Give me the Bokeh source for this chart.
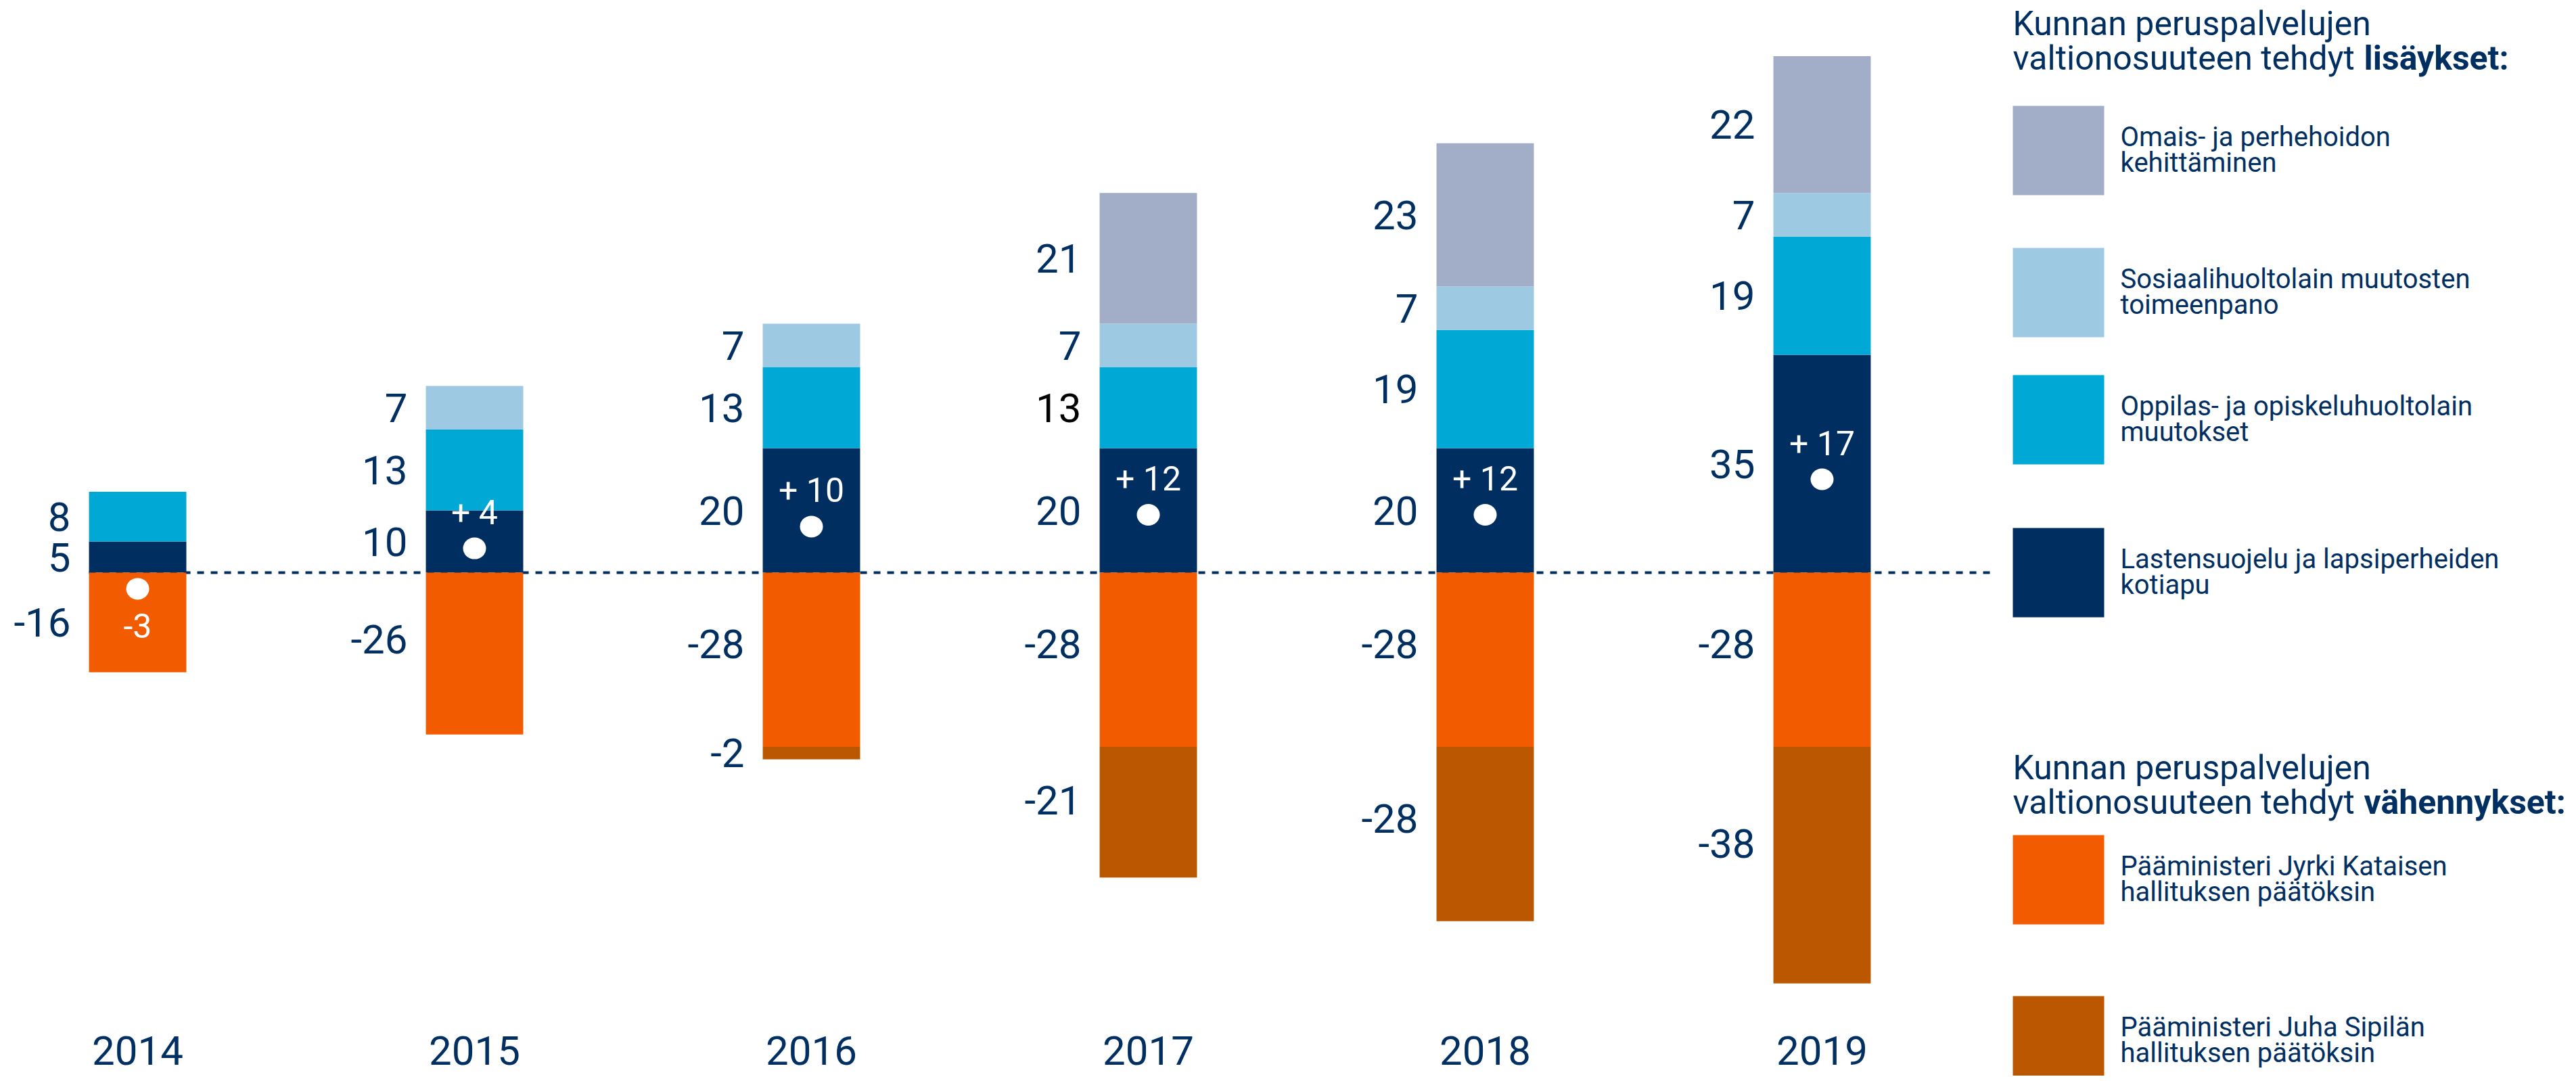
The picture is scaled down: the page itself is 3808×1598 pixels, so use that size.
from bokeh.plotting import figure
from bokeh.models import Range1d, ColumnDataSource
from bokeh.core.properties import value
from bokeh.embed import file_html
from bokeh.resources import INLINE

# ---------------- data ----------------
years = ["2014", "2015", "2016", "2017", "2018", "2019"]
lastensuojelu = [5, 10, 20, 20, 20, 35]      # Lastensuojelu ja lapsiperheiden kotiapu
oppilas = [8, 13, 13, 13, 19, 19]            # Oppilas- ja opiskeluhuoltolain muutokset
sosiaali = [0, 7, 7, 7, 7, 7]                # Sosiaalihuoltolain muutosten toimeenpano
omais = [0, 0, 0, 21, 23, 22]                # Omais- ja perhehoidon kehittäminen
kataisen = [-16, -26, -28, -28, -28, -28]    # Kataisen hallituksen päätöksin
sipilan = [0, 0, -2, -21, -28, -38]          # Sipilän hallituksen päätöksin
net_labels = ["-3", "+ 4", "+ 10", "+ 12", "+ 12", "+ 17"]
net_marker = [-2.6, 3.9, 7.4, 9.3, 9.3, 15.0]

title_lines = ["Kunnan peruspalvelujen", "valtionosuuteen tehdyt "]
title_bold = ["lisäykset:", "vähennykset:"]
legend_items = [
    ["Omais- ja perhehoidon", "kehittäminen"],
    ["Sosiaalihuoltolain muutosten", "toimeenpano"],
    ["Oppilas- ja opiskeluhuoltolain", "muutokset"],
    ["Lastensuojelu ja lapsiperheiden", "kotiapu"],
    ["Pääministeri Jyrki Kataisen", "hallituksen päätöksin"],
    ["Pääministeri Juha Sipilän", "hallituksen päätöksin"],
]

# ---------------- style ----------------
NAVY = "#002e60"
CYAN = "#00a8d6"
LIGHT = "#9ec9e2"
GRAY = "#a2aec8"
ORANGE = "#f35b00"
BROWN = "#ba5700"
TEXT = "#012f61"
FONT = value("Roboto")
BW = 0.289
W, H = 3800, 1590

pos_series = [("lastensuojelu", lastensuojelu, NAVY),
              ("oppilas", oppilas, CYAN),
              ("sosiaali", sosiaali, LIGHT),
              ("omais", omais, GRAY)]
neg_series = [("kataisen", kataisen, ORANGE),
              ("sipilan", sipilan, BROWN)]
black_labels = {("oppilas", 3)}

p = figure(width=W, height=H, output_backend="svg", toolbar_location=None,
           x_axis_location=None, y_axis_location=None,
           x_range=Range1d(-0.40763, 7.22289), y_range=Range1d(-80.870, 91.957),
           min_border=0, outline_line_color=None)
p.extra_x_ranges = {"px": Range1d(0, W)}
p.extra_y_ranges = {"px": Range1d(H, 0)}
p.background_fill_color = "white"
p.border_fill_color = "white"
p.xgrid.grid_line_color = None
p.ygrid.grid_line_color = None
p.grid.visible = False

# zero line
p.segment(x0=[-BW / 2], y0=[0], x1=[5.5], y1=[0], line_color=NAVY,
          line_width=4, line_dash="10 10")

bars = dict(x=[], bottom=[], top=[], color=[])
labels = dict(x=[], y=[], text=[], color=[])
for i in range(len(years)):
    base = 0
    for name, vals, col in pos_series:
        v = vals[i]
        if v > 0:
            bars["x"].append(i); bars["bottom"].append(base); bars["top"].append(base + v)
            bars["color"].append(col)
            labels["x"].append(i - BW / 2); labels["y"].append(base + v / 2)
            labels["text"].append(str(v))
            labels["color"].append("#000000" if (name, i) in black_labels else TEXT)
            base += v
    base = 0
    for name, vals, col in neg_series:
        v = vals[i]
        if v < 0:
            bars["x"].append(i); bars["bottom"].append(base + v); bars["top"].append(base)
            bars["color"].append(col)
            frac = 0.41 if v <= -20 else 0.5
            labels["x"].append(i - BW / 2); labels["y"].append(base + v * frac)
            labels["text"].append(str(v))
            labels["color"].append(TEXT)
            base += v

p.vbar(x="x", bottom="bottom", top="top", width=BW, fill_color="color",
       line_color=None, source=ColumnDataSource(bars))

p.text(x="x", y="y", text="text", text_color="color", x_offset=-27,
       text_font=FONT, text_font_size=value("60px"), text_align="right",
       text_baseline="middle", source=ColumnDataSource(labels))

# net markers
xs = list(range(len(years)))
p.ellipse(x=xs, y=net_marker, width=34, height=32, width_units="screen",
          height_units="screen", fill_color="white", line_color=None)
net_off = [-53 if v > 0 else 55 for v in net_marker]
p.text(x=xs, y=net_marker, text=net_labels, y_offset=net_off, text_color="white",
       text_font=FONT, text_font_size=value("50px"), text_align="center",
       text_baseline="middle")

# year labels
p.text(x=xs, y=[-76.74] * len(xs), text=years, text_color=TEXT, text_font=FONT,
       text_font_size=value("60px"), text_align="center", text_baseline="middle")

# ---------------- legend (pixel ranges) ----------------
LX = 2975
TX = 3134
BOLDX = 3494
title_mid = [34, 1134]
for tm, bold in zip(title_mid, title_bold):
    p.text(x=[LX, LX], y=[tm, tm + 51], text=title_lines, text_color=TEXT,
           text_font=FONT, text_font_size=value("50px"), text_align="left",
           text_baseline="middle", x_range_name="px", y_range_name="px")
    p.text(x=[BOLDX], y=[tm + 51], text=[bold], text_color=TEXT, text_font=FONT,
           text_font_style="bold", text_font_size=value("50px"), text_align="left",
           text_baseline="middle", x_range_name="px", y_range_name="px")

sw_top = [156, 366, 554, 780, 1234, 1472]
sw_colors = [GRAY, LIGHT, CYAN, NAVY, ORANGE, BROWN]
p.quad(left=[LX] * 6, right=[3110] * 6, top=sw_top, bottom=[t + 132 for t in sw_top],
       fill_color=sw_colors, line_color=None, x_range_name="px", y_range_name="px")
lx, ly, lt = [], [], []
for t, lines in zip(sw_top, legend_items):
    c = t + 66
    lx += [TX, TX]; ly += [c - 20.5, c + 17.5]; lt += lines
p.text(x=lx, y=ly, text=lt, text_color=TEXT, text_font=FONT,
       text_font_size=value("40px"), text_align="left", text_baseline="middle",
       x_range_name="px", y_range_name="px")

open("out.html", "w").write(file_html(p, INLINE))
